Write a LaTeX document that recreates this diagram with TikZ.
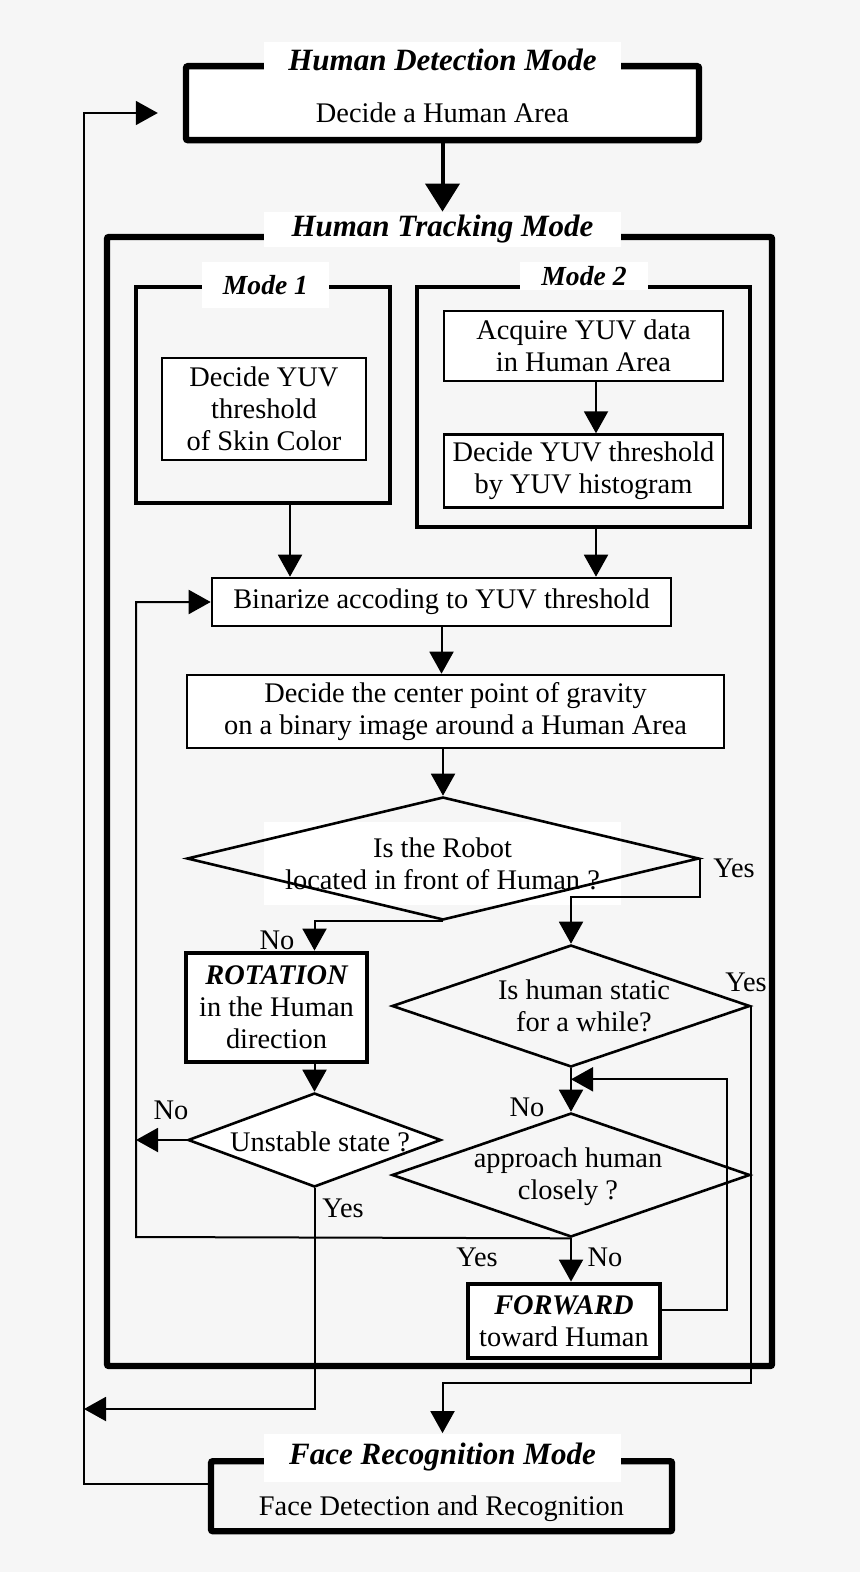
\documentclass[tikz,border=0pt]{standalone}
\usepackage{fontspec}
\setmainfont{Liberation Serif}
\usetikzlibrary{positioning,shapes.geometric,arrows.meta,calc}
\definecolor{bg}{RGB}{246,246,246}

\tikzset{
  frame/.style={draw,line width=3.2pt,rounded corners=1pt,inner sep=0pt},
  subframe/.style={draw,line width=2.2pt,inner sep=0pt},
  proc/.style={draw,fill=white,line width=1.3pt,align=center,inner sep=0pt},
  act/.style={proc,line width=2.4pt},
  tag/.style={fill=white,inner sep=0pt,font=\fontsize{15.5}{18}\selectfont\bfseries\itshape},
  minitag/.style={tag,font=\fontsize{13.8}{16}\selectfont\bfseries\itshape},
  decision/.style={diamond,draw,line width=1.3pt,inner sep=0pt},
  qtext/.style={align=center,inner sep=0pt},
  yn/.style={inner sep=0pt},
  arr/.style={line width=1pt,-{Triangle[length=11pt,width=12pt]}},
}

\begin{document}
\begin{tikzpicture}[x=0.5pt,y=-0.5pt,font=\fontsize{14.2}{16}\selectfont]
  \fill[bg] (0,0) rectangle (860,1572);
  \useasboundingbox (0,0) rectangle (860,1572);

  % detection mode
  \node[frame,fill=white,minimum width=256.5pt,text height=28.2pt,text depth=8.8pt,anchor=north] (hdm) at (442.5,63) {Decide a Human Area};
  \node[tag,minimum width=178.5pt,minimum height=17.5pt] (hdmtag) at (442.5,59.5) {Human Detection Mode};

  % tracking mode
  \node[frame,minimum width=332.5pt,minimum height=564.5pt] (htm) at (439.5,801.5) {};
  \node[tag,minimum width=178.5pt,minimum height=17.5pt] (htmtag) at (442.5,229.5) {Human Tracking Mode};

  \node[subframe,minimum width=127pt,minimum height=108pt] (mode1) at (263,395) {};
  \node[minitag,minimum width=63.5pt,minimum height=23pt] (mode1tag) at (265.5,285) {Mode 1};
  \node[subframe,minimum width=166.5pt,minimum height=120pt] (mode2) at (583.5,407) {};
  \node[minitag,minimum width=64pt,minimum height=14pt] (mode2tag) at (584,276) {Mode 2};

  \node[proc,minimum width=102pt,minimum height=51pt] (skin) at (264,409) {Decide YUV\\threshold\\of Skin Color};
  \node[proc,minimum width=139.5pt,minimum height=35pt] (acq) at (583.5,346) {Acquire YUV data\\in Human Area};
  \node[proc,minimum width=139.5pt,minimum height=36.5pt,below=25.5pt of acq] (hist) {Decide YUV threshold\\by YUV histogram};

  \node[proc,minimum width=229.5pt,minimum height=24pt] (bin) at (441.5,602) {Binarize accoding to YUV threshold};
  \node[proc,minimum width=268.5pt,minimum height=36.5pt] (grav) at (455.5,711.5) {Decide the center point of gravity\\on a binary image around a Human Area};

  \node[qtext,fill=white,minimum width=178.5pt,minimum height=41.5pt] (dia1txt) at (442.5,863.5) {Is the Robot\\located in front of Human ?};
  \node[decision,minimum width=256pt,minimum height=61.5pt] (dia1) at (443,858.5) {};

  \node[act,minimum width=90.5pt,minimum height=54.5pt] (rot) at (276.5,1007.5) {{\bfseries\itshape ROTATION}\\in the Human\\direction};
  \node[decision,fill=white,minimum width=126.5pt,minimum height=47pt] (dia4) at (314.5,1140) {};
  \node[qtext] (dia4txt) at (320,1142) {Unstable state ?};

  \node[decision,minimum width=179pt,minimum height=61pt] (dia2) at (571,1006) {};
  \node[qtext] (dia2txt) at (584,1006) {Is human static\\for a while?};
  \node[decision,minimum width=179pt,minimum height=62pt] (dia3) at (571,1175) {};
  \node[qtext] (dia3txt) at (568,1177) {approach human\\closely ?};

  \node[act,minimum width=96pt,minimum height=37pt] (fwd) at (564,1321) {{\bfseries\itshape FORWARD}\\toward Human};

  % recognition mode
  \node[frame,minimum width=230.5pt,text height=27.2pt,text depth=7.8pt,anchor=north] (fr) at (441.5,1458) {Face Detection and Recognition};
  \node[tag,minimum width=178.5pt,minimum height=24pt] (frtag) at (442.5,1457.5) {Face Recognition Mode};

  % branch labels
  \node[yn] (yes1) at (734,868) {Yes};
  \node[yn] (no1) at (277,940) {No};
  \node[yn] (yes2) at (746,982) {Yes};
  \node[yn] (no2) at (527,1107) {No};
  \node[yn] (no3) at (171,1110) {No};
  \node[yn] (yes3) at (343,1208) {Yes};
  \node[yn] (yes4) at (477,1257) {Yes};
  \node[yn] (no4) at (605,1257) {No};

  \coordinate (lp) at (136,1237);
  \coordinate (rl) at (84,1409);
  \coordinate (hl) at (84,113);

  % connectors
  \draw[line width=2pt,-{Triangle[length=14pt,width=17pt]}] (hdm.south) -- (htmtag.north);
  \draw[arr] ([xshift=13.5pt]mode1.south) -- ([xshift=13.5pt]mode1.south |- bin.north);
  \draw[arr] ([xshift=6.25pt]mode2.south) -- ([xshift=6.25pt]mode2.south |- bin.north);
  \draw[arr] ([xshift=6.25pt]acq.south) -- ([xshift=6.25pt]acq.south |- hist.north);
  \draw[arr] (bin.south) -- (bin.south |- grav.north);
  \draw[arr] (dia1.north |- grav.south) -- (dia1.north);
  \draw[arr] (dia1.south) -| (dia4.north |- rot.north);
  \draw[arr] (dia1.east) -- ++(0,38) -| (dia2.north);
  \draw[arr] (dia4.north |- rot.south) -- (dia4.north);
  \draw[arr] (dia4.west) -- (dia4.west -| lp);
  \draw[arr] (dia3.south) -- (lp) |- (bin.west);
  \draw[arr] (dia4.south) |- (rl);
  \draw[arr] (dia2.south) -- (dia3.north);
  \draw[arr] (dia2.east) -- ++(0,377) -| (frtag.north);
  \draw[arr] (dia3.south) -- (dia3.south |- fwd.north);
  \draw[arr] ([yshift=5.5pt]fwd.east) -- ++(65,0) |- ([yshift=-5.5pt]dia2.south);
  \draw[arr,line width=0.8pt] ([yshift=6pt]fr.west) -| (hl) -- ($(hl -| hdm.west)+(-25,0)$);
\end{tikzpicture}
\end{document}
